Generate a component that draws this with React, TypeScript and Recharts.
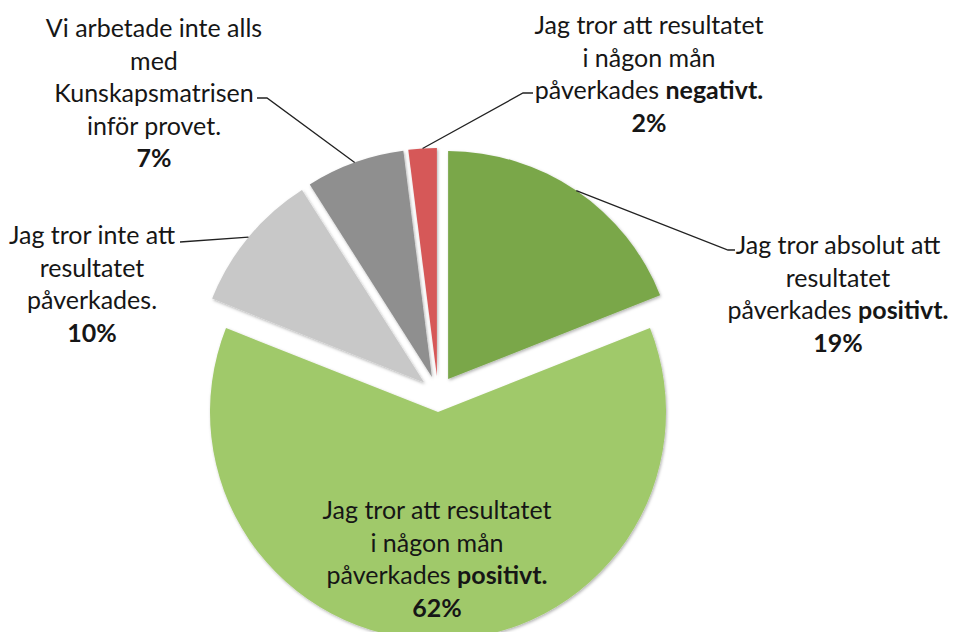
import React from 'react';
import { PieChart, Pie, Cell, Sector } from 'recharts';

// ---- data ----
const categories = [
  'Jag tror absolut att resultatet påverkades positivt.',
  'Jag tror att resultatet i någon mån påverkades positivt.',
  'Jag tror inte att resultatet påverkades.',
  'Vi arbetade inte alls med Kunskapsmatrisen inför provet.',
  'Jag tror att resultatet i någon mån påverkades negativt.',
];
const values = [19, 62, 10, 7, 2];
const percentLabels = ['19%', '62%', '10%', '7%', '2%'];
// line breaks of each label; *...* marks bold text
const labelLines = [
  ['Jag tror absolut att', 'resultatet', 'påverkades *positivt.*'],
  ['Jag tror att resultatet', 'i någon mån', 'påverkades *positivt.*'],
  ['Jag tror inte att', 'resultatet', 'påverkades.'],
  ['Vi arbetade inte alls', 'med', 'Kunskapsmatrisen', 'inför provet.'],
  ['Jag tror att resultatet', 'i någon mån', 'påverkades *negativt.*'],
];

// ---- styles / layout ----
const COLORS = ['#7aa74a', '#a0c96a', '#c8c8c8', '#8f8f8f', '#d65859'];
const EXPLODE = 18;
const FONT = 'Lato, "Open Sans", sans-serif';
const FONT_SIZE = 25;
const LINE_H = 32.5;
const LABEL_LAYOUT: { tx: number; ty: number; leader: number[][] | null }[] = [
  { tx: 838, ty: 245, leader: [[728, 250], [735, 250]] },
  { tx: 437, ty: 510, leader: null },
  { tx: 92, ty: 235, leader: [[180, 242]] },
  { tx: 154, ty: 28, leader: [[267, 98], [257, 98]] },
  { tx: 649, ty: 25, leader: [[523, 93], [533, 93]] },
];

const data = categories.map((name, i) => ({
  name,
  value: values[i],
  pct: percentLabels[i],
  lines: labelLines[i],
}));

const RAD = Math.PI / 180;

const getMid = (p: any) =>
  typeof p.midAngle === 'number' ? p.midAngle : (p.startAngle + p.endAngle) / 2;

const ExplodedSector = (props: any) => {
  const mid = getMid(props);
  const dx = EXPLODE * Math.cos(-mid * RAD);
  const dy = EXPLODE * Math.sin(-mid * RAD);
  return (
    <g>
      <defs>
        <filter id="sliceShadow" x="-20%" y="-20%" width="140%" height="140%">
          <feDropShadow dx="1" dy="1.5" stdDeviation="1.5" floodColor="#000" floodOpacity="0.3" />
        </filter>
      </defs>
      <g filter="url(#sliceShadow)">
        <Sector
          cx={props.cx + dx}
          cy={props.cy + dy}
          innerRadius={props.innerRadius}
          outerRadius={props.outerRadius}
          startAngle={props.startAngle}
          endAngle={props.endAngle}
          fill={props.fill}
          stroke="none"
        />
      </g>
    </g>
  );
};

const renderRich = (line: string) => {
  const parts = line.split('*');
  return parts.map((part, k) =>
    part ? (
      <tspan key={k} fontWeight={k % 2 === 1 ? 700 : 400}>
        {part}
      </tspan>
    ) : null
  );
};

const renderLabel = (props: any) => {
  const { cx, cy, outerRadius, index } = props;
  const mid = getMid(props);
  const cos = Math.cos(-mid * RAD);
  const sin = Math.sin(-mid * RAD);
  const ax = cx + (EXPLODE + outerRadius) * cos;
  const ay = cy + (EXPLODE + outerRadius) * sin;
  const layout = LABEL_LAYOUT[index];
  const entry = data[index];
  const allLines = [...entry.lines, `*${entry.pct}*`];
  let path = '';
  if (layout.leader) {
    path = `M${ax},${ay}` + layout.leader.map((p) => ` L${p[0]},${p[1]}`).join('');
  }
  return (
    <g key={`lbl-${index}`}>
      {path && <path d={path} stroke="#222" strokeWidth={1.3} fill="none" />}
      <text textAnchor="middle" fontFamily={FONT} fontSize={FONT_SIZE} fill="#161616">
        {allLines.map((ln, i) => (
          <tspan key={i} x={layout.tx} y={layout.ty + i * LINE_H + 9}>
            {renderRich(ln)}
          </tspan>
        ))}
      </text>
    </g>
  );
};

export default function App() {
  return (
    <div style={{ position: 'absolute', left: 0, top: 0, width: 955, height: 632, background: '#fff' }}>
      <PieChart width={955} height={632}>
        <Pie
          data={data}
          dataKey="value"
          nameKey="name"
          cx={433}
          cy={389}
          outerRadius={228}
          startAngle={90}
          endAngle={-270}
          isAnimationActive={false}
          labelLine={false}
          label={renderLabel}
          shape={ExplodedSector}
          activeShape={ExplodedSector}
          inactiveShape={ExplodedSector}
          stroke="none"
        >
          {data.map((d, i) => (
            <Cell key={d.name} fill={COLORS[i]} />
          ))}
        </Pie>
      </PieChart>
    </div>
  );
}
